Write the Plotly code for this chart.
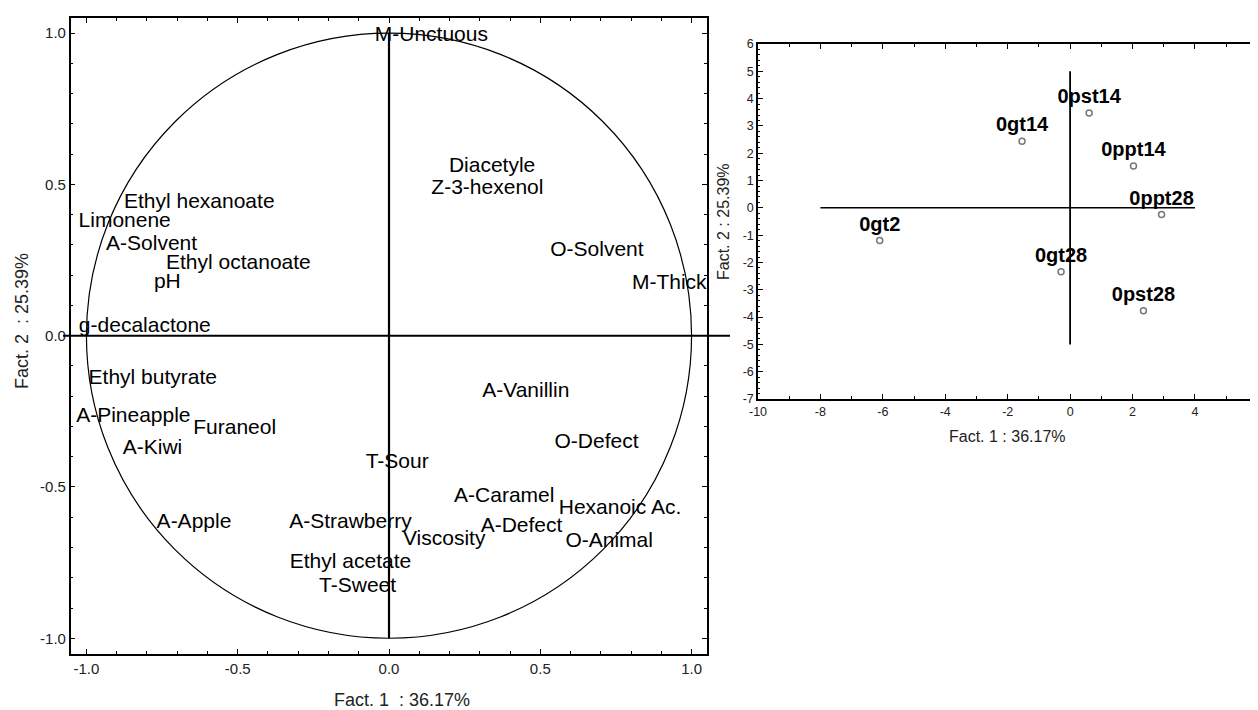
import plotly.graph_objects as go

# ---- Left panel: variable loadings (label anchor positions) ----
var_names = ["M-Unctuous", "Diacetyle", "Z-3-hexenol", "Ethyl hexanoate", "Limonene",
             "A-Solvent", "Ethyl octanoate", "pH", "O-Solvent", "M-Thick", "g-decalactone",
             "Ethyl butyrate", "A-Vanillin", "A-Pineapple", "Furaneol", "A-Kiwi", "O-Defect",
             "T-Sour", "A-Caramel", "Hexanoic Ac.", "A-Apple", "A-Strawberry", "A-Defect",
             "Viscosity", "O-Animal", "Ethyl acetate", "T-Sweet"]
var_f1 = [-0.047, 0.198, 0.140, -0.876, -1.026,
          -0.935, -0.737, -0.777, 0.533, 0.803, -1.025,
          -0.993, 0.308, -1.034, -0.647, -0.880, 0.547,
          -0.077, 0.215, 0.561, -0.768, -0.330, 0.303,
          0.046, 0.583, -0.328, -0.231]
var_f2 = [0.993, 0.558, 0.487, 0.441, 0.375,
          0.300, 0.239, 0.174, 0.280, 0.172, 0.031,
          -0.143, -0.184, -0.267, -0.309, -0.373, -0.355,
          -0.421, -0.531, -0.573, -0.617, -0.617, -0.633,
          -0.675, -0.681, -0.749, -0.829]

# ---- Right panel: sample scores ----
obs_names = ["0gt2", "0gt14", "0pst14", "0ppt14", "0ppt28", "0gt28", "0pst28"]
obs_f1 = [-6.1, -1.54, 0.61, 2.03, 2.93, -0.29, 2.35]
obs_f2 = [-1.2, 2.44, 3.47, 1.53, -0.24, -2.34, -3.77]

# axis ranges, ticks and reference lines
left_range = [-1.052, 1.05]
left_ticks = [-1.0, -0.5, 0.0, 0.5, 1.0]
left_ticktext = ["-1.0", "-0.5", "0.0", "0.5", "1.0"]
right_x_range = [-10, 6.02]
right_y_range = [-7, 6]
right_xticks = [-10, -8, -6, -4, -2, 0, 2, 4]
right_yticks = list(range(-7, 7))
right_hline_x = [-8, 4]
right_vline_y = [-5, 5]

title_f1_left = "Fact. 1&nbsp;&nbsp;: 36.17%"
title_f2_left = "Fact. 2&nbsp;&nbsp;: 25.39%"
title_f1_right = "Fact. 1 : 36.17%"
title_f2_right = "Fact. 2 : 25.39%"

FONT = "Arial, 'Liberation Sans', sans-serif"

# page has an 8px body margin; figure is sized to fill the remaining window
OFF = 8
W, H = 1258 - OFF, 710 - OFF


def px(xp):
    return (xp - OFF) / W


def py(yp):
    return (H - (yp - OFF)) / H


fig = go.Figure()

fig.add_trace(go.Scatter(
    x=var_f1, y=var_f2, text=var_names, mode="text",
    textposition="middle right",
    textfont=dict(family=FONT, size=21, color="black"),
    cliponaxis=False, hoverinfo="text", showlegend=False,
    xaxis="x", yaxis="y"))

fig.add_trace(go.Scatter(
    x=obs_f1, y=obs_f2, text=obs_names, mode="markers+text",
    textposition="top center",
    textfont=dict(family=FONT, size=20, color="black", weight="bold"),
    marker=dict(symbol="circle", size=6, color="white",
                line=dict(color="#777777", width=1.5)),
    cliponaxis=False, showlegend=False,
    xaxis="x2", yaxis="y2"))

axis_common = dict(showline=True, linecolor="black", linewidth=1.5,
                   ticks="inside", ticklen=5, tickcolor="black", tickwidth=1,
                   showgrid=False, zeroline=False, automargin=False)

fig.update_layout(
    width=W, height=H,
    margin=dict(l=0, r=0, t=0, b=0, pad=0, autoexpand=False),
    paper_bgcolor="white", plot_bgcolor="white",
    font=dict(family=FONT, color="black"),
    xaxis=dict(domain=[px(70.7), px(706.7)], range=left_range,
               tickmode="array", tickvals=left_ticks, ticktext=left_ticktext,
               minor=dict(dtick=0.1, ticks="inside", ticklen=3, tickcolor="black"),
               mirror="ticks", tickfont=dict(size=15, color="#222"),
               anchor="y", **axis_common),
    yaxis=dict(domain=[py(654), py(18)], range=left_range,
               tickmode="array", tickvals=left_ticks, ticktext=left_ticktext,
               minor=dict(dtick=0.1, ticks="inside", ticklen=3, tickcolor="black"),
               mirror="ticks", tickfont=dict(size=15, color="#222"),
               anchor="x", **axis_common),
    xaxis2=dict(domain=[px(758), 1.0], range=right_x_range,
                tickmode="array", tickvals=right_xticks,
                ticktext=[str(v) for v in right_xticks],
                minor=dict(dtick=1, ticks="inside", ticklen=3, tickcolor="black"),
                mirror="ticks", tickfont=dict(size=12.5, color="#222"),
                anchor="y2", **axis_common),
    yaxis2=dict(domain=[py(399), py(44)], range=right_y_range,
                tickmode="array", tickvals=right_yticks,
                ticktext=[str(v) for v in right_yticks],
                minor=dict(dtick=0.2, ticks="inside", ticklen=2, tickcolor="black"),
                mirror=False, tickfont=dict(size=12.5, color="#222"),
                anchor="x2", **axis_common),
)

shapes = [
    # correlation circle
    dict(type="circle", xref="x", yref="y", x0=-1, y0=-1, x1=1, y1=1,
         line=dict(color="black", width=1.2), layer="below"),
    # left axes through origin
    dict(type="line", xref="x", yref="y", x0=0, x1=0, y0=-1, y1=1,
         line=dict(color="black", width=2.2)),
    dict(type="line", xref="paper", yref="y", x0=px(63), x1=px(730), y0=0, y1=0,
         line=dict(color="black", width=2)),
    # right axes through origin
    dict(type="line", xref="x2", yref="y2", x0=right_hline_x[0], x1=right_hline_x[1], y0=0, y1=0,
         line=dict(color="black", width=1.5)),
    dict(type="line", xref="x2", yref="y2", x0=0, x1=0, y0=right_vline_y[0], y1=right_vline_y[1],
         line=dict(color="black", width=1.8)),
]
fig.update_layout(shapes=shapes)

annotations = [
    dict(text=title_f1_left, x=px(401.5), y=py(699.5), xref="paper", yref="paper",
         showarrow=False, font=dict(size=18, color="#222"), xanchor="center", yanchor="middle"),
    dict(text=title_f2_left, x=px(21.5), y=py(321.5), xref="paper", yref="paper",
         showarrow=False, font=dict(size=18, color="#222"), textangle=-90,
         xanchor="center", yanchor="middle"),
    dict(text=title_f1_right, x=px(1007.5), y=py(436.5), xref="paper", yref="paper",
         showarrow=False, font=dict(size=16, color="#222"), xanchor="center", yanchor="middle"),
    dict(text=title_f2_right, x=px(723.5), y=py(221.5), xref="paper", yref="paper",
         showarrow=False, font=dict(size=16, color="#222"), textangle=-90,
         xanchor="center", yanchor="middle"),
]
fig.update_layout(annotations=annotations)

fig.write_html("out.html")
